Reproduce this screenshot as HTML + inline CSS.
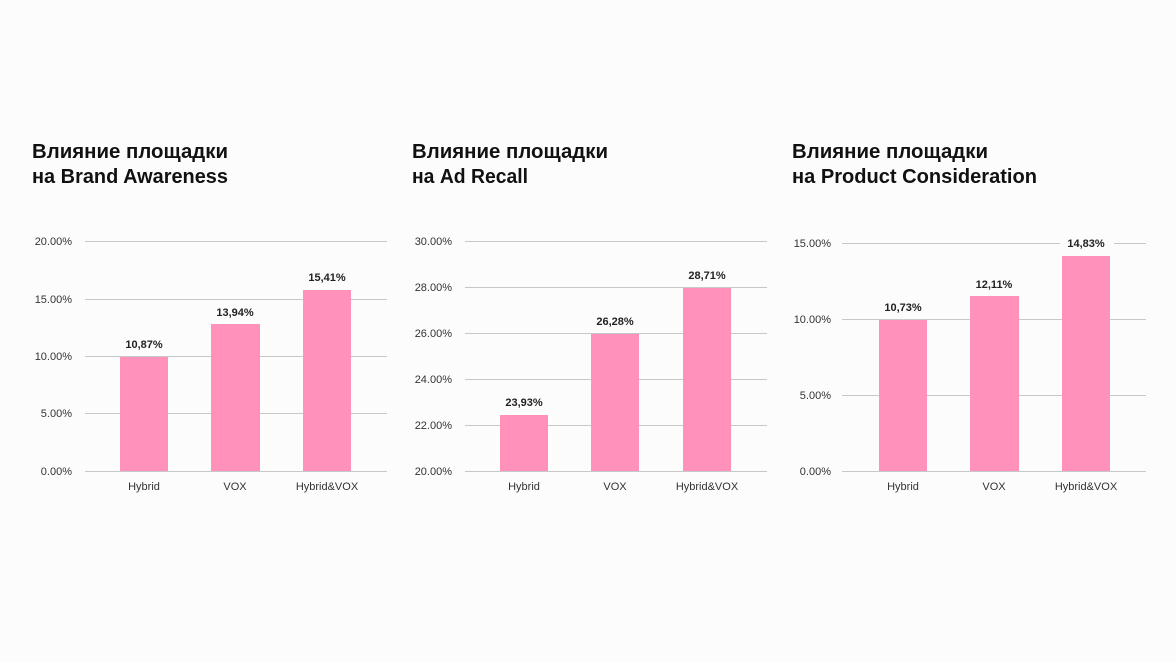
<!DOCTYPE html>
<html><head><meta charset="utf-8"><style>
html,body{margin:0;padding:0;background:#fcfcfc;}
svg{display:block;}
.t{font-family:"Liberation Sans","DejaVu Sans",sans-serif;font-size:20px;font-weight:600;fill:#111;}
.tk{font-family:"Liberation Sans",sans-serif;font-size:11px;fill:#333;text-anchor:end;}
.cat{font-family:"Liberation Sans",sans-serif;font-size:11px;fill:#333;text-anchor:middle;}
.v{font-family:"Liberation Sans",sans-serif;font-size:11px;font-weight:bold;fill:#222;text-anchor:middle;}
.g{stroke:#c8c8c8;stroke-width:1;}
.b{fill:#ff91bb;}
</style></head><body>
<svg width="1176" height="662" viewBox="0 0 1176 662">
<rect width="1176" height="662" fill="#fcfcfc"/>
<!-- Chart 1 -->
<text class="t" x="32" y="158" textLength="196" lengthAdjust="spacingAndGlyphs">Влияние площадки</text>
<text class="t" x="32" y="183" textLength="196" lengthAdjust="spacingAndGlyphs">на Brand Awareness</text>
<g>
<line class="g" x1="85" x2="387" y1="241.5" y2="241.5"/>
<line class="g" x1="85" x2="387" y1="299.5" y2="299.5"/>
<line class="g" x1="85" x2="387" y1="356.5" y2="356.5"/>
<line class="g" x1="85" x2="387" y1="413.5" y2="413.5"/>
<line class="g" x1="85" x2="387" y1="471.5" y2="471.5"/>
<text class="tk" x="72" y="245">20.00%</text>
<text class="tk" x="72" y="303">15.00%</text>
<text class="tk" x="72" y="360">10.00%</text>
<text class="tk" x="72" y="417">5.00%</text>
<text class="tk" x="72" y="475">0.00%</text>
<rect class="b" x="120" y="357" width="48" height="114"/>
<rect class="b" x="211" y="324" width="49" height="147"/>
<rect class="b" x="303" y="290" width="48" height="181"/>
<text class="v" x="144" y="348">10,87%</text>
<text class="v" x="235" y="316">13,94%</text>
<text class="v" x="327" y="281">15,41%</text>
<text class="cat" x="144" y="490">Hybrid</text>
<text class="cat" x="235" y="490">VOX</text>
<text class="cat" x="327" y="490">Hybrid&amp;VOX</text>
</g>
<!-- Chart 2 -->
<text class="t" x="412" y="158" textLength="196" lengthAdjust="spacingAndGlyphs">Влияние площадки</text>
<text class="t" x="412" y="183" textLength="116" lengthAdjust="spacingAndGlyphs">на Ad Recall</text>
<g>
<line class="g" x1="465" x2="767" y1="241.5" y2="241.5"/>
<line class="g" x1="465" x2="767" y1="287.5" y2="287.5"/>
<line class="g" x1="465" x2="767" y1="333.5" y2="333.5"/>
<line class="g" x1="465" x2="767" y1="379.5" y2="379.5"/>
<line class="g" x1="465" x2="767" y1="425.5" y2="425.5"/>
<line class="g" x1="465" x2="767" y1="471.5" y2="471.5"/>
<text class="tk" x="452" y="245">30.00%</text>
<text class="tk" x="452" y="291">28.00%</text>
<text class="tk" x="452" y="337">26.00%</text>
<text class="tk" x="452" y="383">24.00%</text>
<text class="tk" x="452" y="429">22.00%</text>
<text class="tk" x="452" y="475">20.00%</text>
<rect class="b" x="500" y="415" width="48" height="56"/>
<rect class="b" x="591" y="334" width="48" height="137"/>
<rect class="b" x="683" y="288" width="48" height="183"/>
<text class="v" x="524" y="406">23,93%</text>
<text class="v" x="615" y="325">26,28%</text>
<text class="v" x="707" y="279">28,71%</text>
<text class="cat" x="524" y="490">Hybrid</text>
<text class="cat" x="615" y="490">VOX</text>
<text class="cat" x="707" y="490">Hybrid&amp;VOX</text>
</g>
<!-- Chart 3 -->
<text class="t" x="792" y="158" textLength="196" lengthAdjust="spacingAndGlyphs">Влияние площадки</text>
<text class="t" x="792" y="183" textLength="245" lengthAdjust="spacingAndGlyphs">на Product Consideration</text>
<g>
<line class="g" x1="842" x2="1146" y1="243.5" y2="243.5"/>
<line class="g" x1="842" x2="1146" y1="319.5" y2="319.5"/>
<line class="g" x1="842" x2="1146" y1="395.5" y2="395.5"/>
<line class="g" x1="842" x2="1146" y1="471.5" y2="471.5"/>
<text class="tk" x="831" y="247">15.00%</text>
<text class="tk" x="831" y="323">10.00%</text>
<text class="tk" x="831" y="399">5.00%</text>
<text class="tk" x="831" y="475">0.00%</text>
<rect class="b" x="879" y="320" width="48" height="151"/>
<rect class="b" x="970" y="296" width="49" height="175"/>
<rect class="b" x="1062" y="256" width="48" height="215"/>
<rect x="1060" y="236" width="54" height="14" fill="#fcfcfc"/>
<text class="v" x="903" y="311">10,73%</text>
<text class="v" x="994" y="288">12,11%</text>
<text class="v" x="1086" y="247">14,83%</text>
<text class="cat" x="903" y="490">Hybrid</text>
<text class="cat" x="994" y="490">VOX</text>
<text class="cat" x="1086" y="490">Hybrid&amp;VOX</text>
</g>
</svg>
</body></html>
